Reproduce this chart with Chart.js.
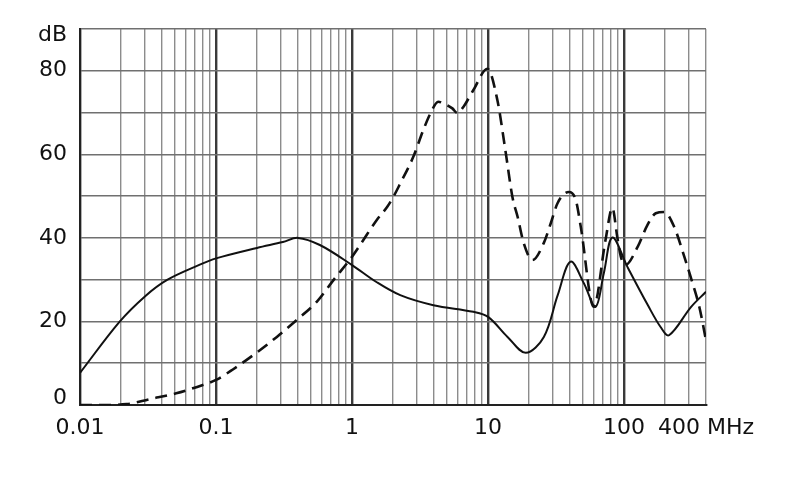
<!DOCTYPE html>
<html>
<head>
<meta charset="utf-8">
<script src="https://cdn.jsdelivr.net/npm/chart.js@4.4.1/dist/chart.umd.min.js"></script>
<style>
  html, body { margin: 0; padding: 0; background: #ffffff; }
  #wrap { width: 790px; height: 499px; position: relative; }
</style>
</head>
<body>
<div id="wrap"><canvas id="c" width="790" height="499"></canvas></div>
<script>
// ---- data ----
const solidFreq = [0.01, 0.0195, 0.03, 0.0434, 0.076, 0.1, 0.2, 0.31, 0.4, 0.58, 1, 1.5, 2.26, 3.96, 7.8, 10, 13.9, 18.9, 25.7, 32.5, 40.4, 50.7, 61.7, 71, 82, 106, 150, 186, 214, 311, 400];
const solidDb   = [7.7, 19.9, 26.0, 29.9, 33.6, 35.1, 37.6, 39.0, 40, 38.3, 33.5, 29.5, 26.3, 23.9, 22.3, 21.1, 16.3, 12.5, 16.3, 26.3, 34.3, 29.1, 23.5, 31.6, 40.1, 33.0, 23.8, 18.6, 16.7, 23.5, 27.1];

const dashFreq = [0.01, 0.015, 0.022, 0.0325, 0.051, 0.08, 0.1, 0.133, 0.2, 0.28, 0.39, 0.55, 0.73, 1, 1.14, 1.52, 1.81, 2.01, 2.26, 2.82, 3.34, 3.77, 4.3, 4.7, 5.46, 5.94, 6.6, 7.8, 9.9, 11.7, 13.4, 15.1, 16.5, 18.3, 21.2, 25.7, 28.9, 32.4, 39.3, 44.2, 48, 59.8, 73, 82, 89, 94.6, 102, 126, 148, 171, 197, 233, 277, 319, 357, 400];
const dashDb   = [0, 0, 0.2, 1.4, 2.8, 4.8, 6, 8.5, 12.6, 16.3, 20.3, 24.7, 29.9, 35.5, 38.2, 44.3, 47.4, 49.8, 53, 59.4, 65.8, 69.8, 72.6, 72.2, 71, 69.9, 71.4, 75.4, 80.5, 73, 61, 49.8, 45, 38.7, 34.7, 38.8, 43.5, 48.3, 51, 49, 42.7, 23.5, 39.5, 47.2, 40.3, 35.5, 33.5, 37.9, 43, 45.9, 46.2, 42.7, 35.5, 29.1, 23.5, 15.5];

// x grid positions (MHz) and labelled ticks
const xGrid = [0.01,0.02,0.03,0.04,0.05,0.06,0.07,0.08,0.09,
               0.1,0.2,0.3,0.4,0.5,0.6,0.7,0.8,0.9,
               1,2,3,4,5,6,7,8,9,
               10,20,30,40,50,60,70,80,90,
               100,200,300,400];
const xDecades = [0.01, 0.1, 1, 10, 100];
const xLabelValues = [0.01, 0.1, 1, 10, 100, 400];
const xLabelTexts  = ['0.01', '0.1', '1', '10', '100', '400 MHz'];

const yTickValues = [0, 10, 20, 30, 40, 50, 60, 70, 80, 90];
const yLabelValues = [0, 20, 40, 60, 80, 90];
const yLabelTexts  = ['0', '20', '40', '60', '80', 'dB'];

// ---- helpers ----
const near = (a, b) => Math.abs(a - b) <= Math.abs(b) * 1e-6 + 1e-12;
const isDecade = v => xDecades.some(d => near(v, d));
const FONT = 'DejaVu Sans';

const toPts = (xs, ys) => xs.map((x, i) => ({ x: x, y: ys[i] }));

new Chart(document.getElementById('c'), {
  type: 'line',
  data: {
    datasets: [
      {
        label: 'solid',
        data: toPts(solidFreq, solidDb),
        borderColor: '#111111',
        borderWidth: 2,
        pointRadius: 0,
        fill: false,
        tension: 0.35
      },
      {
        label: 'dashed',
        data: toPts(dashFreq, dashDb),
        borderColor: '#111111',
        borderWidth: 2.6,
        borderDash: [12, 7],
        pointRadius: 0,
        fill: false,
        cubicInterpolationMode: 'monotone'
      }
    ]
  },
  options: {
    responsive: false,
    animation: false,
    events: [],
    layout: { padding: { left: 0, right: 84, top: 29, bottom: 0 } },
    plugins: { legend: { display: false }, tooltip: { enabled: false }, title: { display: false } },
    scales: {
      x: {
        type: 'logarithmic',
        min: 0.01,
        max: 400,
        afterBuildTicks: (scale) => { scale.ticks = xGrid.map(v => ({ value: v })); },
        afterFit: (scale) => { scale.height = 94; },
        grid: {
          drawTicks: false,
          color: (ctx) => (ctx.tick && isDecade(ctx.tick.value)) ? '#3a3a3a' : '#8c8c8c',
          lineWidth: (ctx) => (ctx.tick && isDecade(ctx.tick.value)) ? 2.4 : 1.4
        },
        border: { display: true, color: '#222222', width: 2 },
        ticks: {
          autoSkip: false,
          maxRotation: 0,
          minRotation: 0,
          padding: 10,
          color: '#111111',
          font: { family: FONT, size: 22 },
          callback: (value) => {
            const i = xLabelValues.findIndex(v => near(value, v));
            return i >= 0 ? xLabelTexts[i] : '';
          }
        }
      },
      y: {
        type: 'linear',
        min: 0,
        max: 90,
        afterBuildTicks: (scale) => { scale.ticks = yTickValues.map(v => ({ value: v })); },
        afterFit: (scale) => { scale.width = 80; },
        grid: {
          drawTicks: false,
          color: '#707070',
          lineWidth: 1.5
        },
        border: { display: true, color: '#222222', width: 2 },
        ticks: {
          padding: 13,
          color: '#111111',
          font: (ctx) => {
            const v = ctx.tick ? ctx.tick.value : null;
            let lh = 1.2;
            if (v === 90) lh = '12px';
            if (v === 0) lh = '14px';
            return { family: FONT, size: 22, lineHeight: lh };
          },
          callback: (value) => {
            const i = yLabelValues.indexOf(value);
            if (i < 0) return '';
            if (value === 90) return ['', yLabelTexts[i]];
            if (value === 0) return [yLabelTexts[i], ''];
            return yLabelTexts[i];
          }
        }
      }
    }
  }
});
</script>
</body>
</html>
